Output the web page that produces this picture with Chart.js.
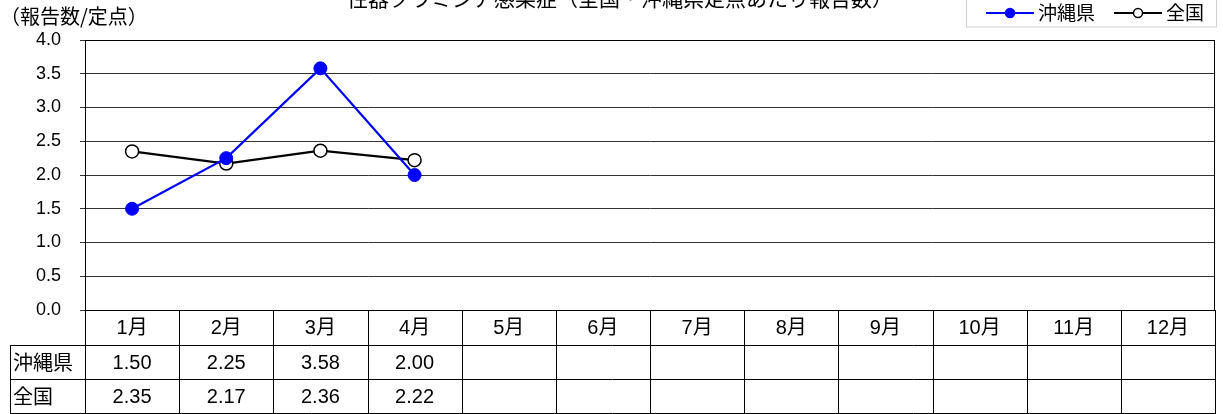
<!DOCTYPE html>
<html lang="ja">
<head>
    <meta charset="UTF-8">
    <title>性器クラミジア感染症</title>
    <style>
        body { margin: 0; background: #fff; }
        canvas { display: block; }
    </style>
    <script src="https://cdn.jsdelivr.net/npm/chart.js"></script>
</head>
<body>
    <canvas id="chart" width="1223" height="414"></canvas>

    <script>
        // data
        const months = ['1月', '2月', '3月', '4月', '5月', '6月', '7月', '8月', '9月', '10月', '11月', '12月'];
        const okinawa = [1.50, 2.25, 3.58, 2.00, null, null, null, null, null, null, null, null];
        const zenkoku = [2.35, 2.17, 2.36, 2.22, null, null, null, null, null, null, null, null];
        const seriesNames = ['沖縄県', '全国'];
        const titleText = '性器クラミジア感染症（全国・沖縄県定点あたり報告数）';
        const yTitle = '（報告数/定点）';

        const FONT = '"Liberation Sans", "Noto Sans CJK JP", sans-serif';
        const JP = '"Noto Sans CJK JP", sans-serif';

        // title, axis title, legend and the data table under the plot
        const extras = {
            id: 'extras',
            afterDraw(chart) {
                const ctx = chart.ctx;
                const area = chart.chartArea;
                const x = chart.scales.x;
                ctx.save();
                ctx.fillStyle = '#000';

                ctx.font = '21px ' + JP;
                ctx.textAlign = 'center';
                ctx.textBaseline = 'middle';
                ctx.fillText(titleText, 620, -2);

                ctx.font = '20px ' + JP;
                ctx.textAlign = 'left';
                ctx.fillText(yTitle, 0, 16);

                // legend
                ctx.strokeStyle = '#d0d0d0';
                ctx.lineWidth = 1;
                ctx.strokeRect(966.5, -5, 250, 32);
                const lg = [
                    { x: 1010, color: '#0000ff', fill: '#0000ff', name: seriesNames[0] },
                    { x: 1138, color: '#000', fill: '#fff', name: seriesNames[1] }
                ];
                lg.forEach(l => {
                    ctx.strokeStyle = l.color;
                    ctx.lineWidth = 2;
                    ctx.beginPath();
                    ctx.moveTo(l.x - 24, 13);
                    ctx.lineTo(l.x + 24, 13);
                    ctx.stroke();
                    ctx.beginPath();
                    ctx.arc(l.x, 13, 4.5, 0, Math.PI * 2);
                    ctx.fillStyle = l.fill;
                    ctx.fill();
                    ctx.lineWidth = 1.5;
                    ctx.stroke();
                    ctx.fillStyle = '#000';
                    ctx.font = '19px ' + JP;
                    ctx.textAlign = 'left';
                    ctx.fillText(l.name, l.x + 28, 13);
                });

                // data table
                const rowTops = [area.bottom, 345, 379, 413];
                const colW = (area.right - area.left) / months.length;
                ctx.strokeStyle = '#000';
                ctx.lineWidth = 1;
                ctx.beginPath();
                rowTops.slice(1).forEach(y => {
                    ctx.moveTo(10, y + 0.5);
                    ctx.lineTo(area.right, y + 0.5);
                });
                for (let i = 0; i <= months.length; i++) {
                    const lx = Math.round(area.left + i * colW) + 0.5;
                    ctx.moveTo(lx, area.bottom);
                    ctx.lineTo(lx, 414);
                }
                ctx.moveTo(10.5, rowTops[1]);
                ctx.lineTo(10.5, 414);
                ctx.stroke();

                ctx.font = '20px ' + FONT;
                ctx.textAlign = 'center';
                months.forEach((m, i) => {
                    const cx = x.getPixelForValue(i);
                    ctx.fillText(m, cx, 328);
                    if (okinawa[i] !== null) ctx.fillText(okinawa[i].toFixed(2), cx, 363);
                    if (zenkoku[i] !== null) ctx.fillText(zenkoku[i].toFixed(2), cx, 397);
                });
                ctx.font = '20px ' + JP;
                ctx.textAlign = 'left';
                ctx.fillText(seriesNames[0], 13, 362);
                ctx.fillText(seriesNames[1], 13, 396);

                // frame of plot area
                ctx.strokeRect(area.left + 0.5, area.top + 0.5, area.right - area.left - 1, area.bottom - area.top);
                ctx.restore();
            }
        };

        new Chart(document.getElementById('chart'), {
            type: 'line',
            data: {
                labels: months,
                datasets: [
                    {
                        label: seriesNames[0],
                        data: okinawa,
                        borderColor: '#0000ff',
                        backgroundColor: '#0000ff',
                        borderWidth: 2.2,
                        pointRadius: 6.5,
                        pointBorderWidth: 1,
                        tension: 0
                    },
                    {
                        label: seriesNames[1],
                        data: zenkoku,
                        borderColor: '#000',
                        backgroundColor: '#fff',
                        pointBackgroundColor: '#fff',
                        borderWidth: 2.2,
                        pointRadius: 6.5,
                        pointBorderWidth: 1.5,
                        tension: 0
                    }
                ]
            },
            options: {
                responsive: false,
                animation: false,
                layout: { padding: { left: 0, top: 40, right: 1, bottom: 104 } },
                plugins: {
                    legend: { display: false },
                    title: { display: false },
                    tooltip: { enabled: false }
                },
                scales: {
                    x: {
                        display: false,
                        offset: true
                    },
                    y: {
                        min: 0,
                        max: 4,
                        ticks: {
                            stepSize: 0.5,
                            color: '#000',
                            padding: 19,
                            font: { family: FONT, size: 18 },
                            callback: v => v.toFixed(1)
                        },
                        grid: {
                            color: '#333',
                            tickLength: 5,
                            drawTicks: true
                        },
                        border: { color: '#000' },
                        afterFit: s => { s.width = 85; }
                    }
                }
            },
            plugins: [extras]
        });
    </script>
</body>
</html>
